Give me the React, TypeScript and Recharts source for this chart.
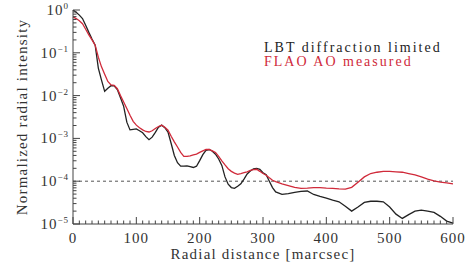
import { LineChart, Line, XAxis, YAxis, ReferenceLine, Legend } from 'recharts';

// radial distance in marcsec
const radius = [
  0, 5, 10, 15, 20, 25, 30, 35, 40, 45, 50, 55, 60, 65, 70, 75, 80, 85, 90, 95,
  100, 105, 110, 115, 120, 125, 130, 135, 140, 145, 150, 155, 160, 165, 170, 175, 180, 185, 190, 195,
  200, 205, 210, 215, 220, 225, 230, 235, 240, 245, 250, 255, 260, 265, 270, 275, 280, 285, 290, 295,
  300, 305, 310, 315, 320, 330, 340, 350, 360, 370, 380, 390, 400, 410, 420, 430, 440, 450, 460, 470,
  480, 490, 500, 510, 520, 530, 540, 550, 560, 570, 580, 590, 600,
];

const lbtDiffraction = [
  1.0, 0.89, 0.76, 0.63, 0.44, 0.3, 0.21, 0.15, 0.044, 0.023, 0.0126, 0.0148, 0.017, 0.017, 0.0138, 0.0089, 0.0056, 0.0024, 0.00158, 0.00162,
  0.00166, 0.00151, 0.00135, 0.0011, 0.00093, 0.00107, 0.00138, 0.00182, 0.00204, 0.00178, 0.00141, 0.00076, 0.0004, 0.00027, 0.000224, 0.000224, 0.000229, 0.000219, 0.000209, 0.000224,
  0.000302, 0.000417, 0.000525, 0.00055, 0.0005, 0.000427, 0.000331, 0.000234, 0.000126, 0.000085, 0.000071, 0.000068, 0.000076, 0.000087, 0.000112, 0.000148, 0.000174, 0.000195, 0.0002, 0.00019,
  0.000158, 0.000141, 0.0001, 0.000071, 0.000056, 0.000049, 0.000051, 0.000055, 0.000058, 0.000059, 0.000049, 0.000044, 0.00004, 0.000036, 0.000033, 0.000026, 0.00002, 0.000025, 0.000032, 0.000034,
  0.000034, 0.000033, 0.000025, 0.000017, 0.0000135, 0.0000166, 0.00002, 0.000021, 0.00002, 0.0000186, 0.0000151, 0.0000117, 0.0000105,
];

const flaoMeasured = [
  0.69, 0.63, 0.56, 0.48, 0.355, 0.263, 0.2, 0.151, 0.079, 0.047, 0.0316, 0.0214, 0.0178, 0.0174, 0.0145, 0.01, 0.0071, 0.005, 0.00347, 0.00251,
  0.00204, 0.00178, 0.00158, 0.00145, 0.00141, 0.00151, 0.0017, 0.0019, 0.00204, 0.00182, 0.00155, 0.00112, 0.00083, 0.00063, 0.00047, 0.00038, 0.00038, 0.00039, 0.00041, 0.00043,
  0.00047, 0.00051, 0.00055, 0.00055, 0.00051, 0.00047, 0.00038, 0.0003, 0.00024, 0.000195, 0.00017, 0.000155, 0.000145, 0.000151, 0.000158, 0.000166, 0.000178, 0.000186, 0.00019, 0.00017,
  0.000151, 0.000138, 0.00012, 0.000105, 0.000098, 0.000087, 0.000079, 0.000072, 0.000068, 0.000069, 0.000071, 0.000071, 0.000069, 0.000068, 0.000066, 0.000065, 0.000072, 0.000095, 0.000126, 0.000151,
  0.000162, 0.00017, 0.00017, 0.000166, 0.000162, 0.000151, 0.000141, 0.000126, 0.000112, 0.000102, 0.000095, 0.000091, 0.000087,
];

const seriesNames = ['LBT diffraction limited', 'FLAO AO measured'];

const data = radius.map((r, i) => ({ r, lbt: lbtDiffraction[i], flao: flaoMeasured[i] }));

const FONT = 'Liberation Serif';
const AXIS = '#444';
const RED = '#d02a3a';
const BOX = { left: 73, right: 453, top: 10, bottom: 224 };

const xTicks: number[] = [];
for (let v = 0; v <= 600; v += 10) xTicks.push(v);

const yTicks: number[] = [];
for (let e = -5; e <= 0; e++) {
  for (let m = 1; m <= 9; m++) {
    if (e === 0 && m > 1) break;
    yTicks.push(m * Math.pow(10, e));
  }
}

const isDecade = (v: number) => {
  const l = Math.log10(v);
  return Math.abs(l - Math.round(l)) < 1e-6;
};

const BottomTick = ({ x, payload }: any) => {
  const major = payload.value % 100 === 0;
  return (
    <g>
      <line x1={x} x2={x} y1={BOX.bottom} y2={BOX.bottom - (major ? 7 : 3.5)} stroke={AXIS} />
      {major && (
        <text x={x} y={BOX.bottom + 19} textAnchor="middle" fontFamily={FONT} fontSize={15} letterSpacing={1} fill="#333">
          {payload.value}
        </text>
      )}
    </g>
  );
};

const TopTick = ({ x, payload }: any) => {
  const major = payload.value % 100 === 0;
  return <line x1={x} x2={x} y1={BOX.top} y2={BOX.top + (major ? 7 : 3.5)} stroke={AXIS} />;
};

const LeftTick = ({ y, payload }: any) => {
  const major = isDecade(payload.value);
  const exp = Math.round(Math.log10(payload.value));
  return (
    <g>
      <line x1={BOX.left} x2={BOX.left + (major ? 7 : 3.5)} y1={y} y2={y} stroke={AXIS} />
      {major && (
        <text x={69} y={y + 5} textAnchor="end" fontFamily={FONT} fontSize={15} letterSpacing={1} fill="#333">
          <tspan>10</tspan>
          <tspan dy={-6} fontSize={9}>{exp < 0 ? `\u2212${-exp}` : `${exp}`}</tspan>
        </text>
      )}
    </g>
  );
};

const RightTick = ({ y, payload }: any) => {
  const major = isDecade(payload.value);
  return <line x1={BOX.right} x2={BOX.right - (major ? 7 : 3.5)} y1={y} y2={y} stroke={AXIS} />;
};

const LegendBox = () => (
  <svg width={200} height={32} style={{ display: 'block' }}>
    <text x={0} y={11} fontFamily={FONT} fontSize={14} letterSpacing={2} fill="#222">{seriesNames[0]}</text>
    <text x={0} y={25} fontFamily={FONT} fontSize={14} letterSpacing={2} fill={RED}>{seriesNames[1]}</text>
  </svg>
);

export default function App() {
  return (
    <div style={{ position: 'absolute', left: 0, top: 0, background: '#fff' }}>
      <LineChart width={468} height={266} data={data} margin={{ top: 10, right: 15, bottom: 12, left: 13 }}>
        <XAxis
          dataKey="r"
          type="number"
          domain={[0, 600]}
          ticks={xTicks}
          interval={0}
          height={30}
          stroke={AXIS}
          tickLine={false}
          tick={<BottomTick />}
          label={{ value: 'Radial distance [marcsec]', position: 'insideBottom', offset: -5, fontFamily: FONT, fontSize: 15, letterSpacing: 1.2, fill: '#333' }}
        />
        <XAxis
          xAxisId="top"
          orientation="top"
          dataKey="r"
          type="number"
          domain={[0, 600]}
          ticks={xTicks}
          interval={0}
          height={0}
          stroke={AXIS}
          tickLine={false}
          tick={<TopTick />}
        />
        <YAxis
          scale="log"
          domain={[1e-5, 1]}
          allowDataOverflow
          ticks={yTicks}
          interval={0}
          width={60}
          stroke={AXIS}
          tickLine={false}
          tick={<LeftTick />}
          label={{ value: 'Normalized radial intensity', angle: -90, position: 'insideLeft', offset: 9, style: { textAnchor: 'middle' }, fontFamily: FONT, fontSize: 15, letterSpacing: 1.2, fill: '#333' }}
        />
        <YAxis
          yAxisId="right"
          orientation="right"
          scale="log"
          domain={[1e-5, 1]}
          allowDataOverflow
          ticks={yTicks}
          interval={0}
          width={0}
          stroke={AXIS}
          tickLine={false}
          tick={<RightTick />}
        />
        <ReferenceLine y={1e-4} stroke="#555" strokeDasharray="3 3" />
        <Line name={seriesNames[0]} dataKey="lbt" stroke="#222" strokeWidth={1.3} dot={false} isAnimationActive={false} />
        <Line name={seriesNames[1]} dataKey="flao" stroke={RED} strokeWidth={1.3} dot={false} isAnimationActive={false} />
        <Legend
          layout="horizontal"
          verticalAlign="middle"
          align="center"
          content={<LegendBox />}
          wrapperStyle={{ left: 264, top: 41, width: 'auto' }}
        />
      </LineChart>
    </div>
  );
}
